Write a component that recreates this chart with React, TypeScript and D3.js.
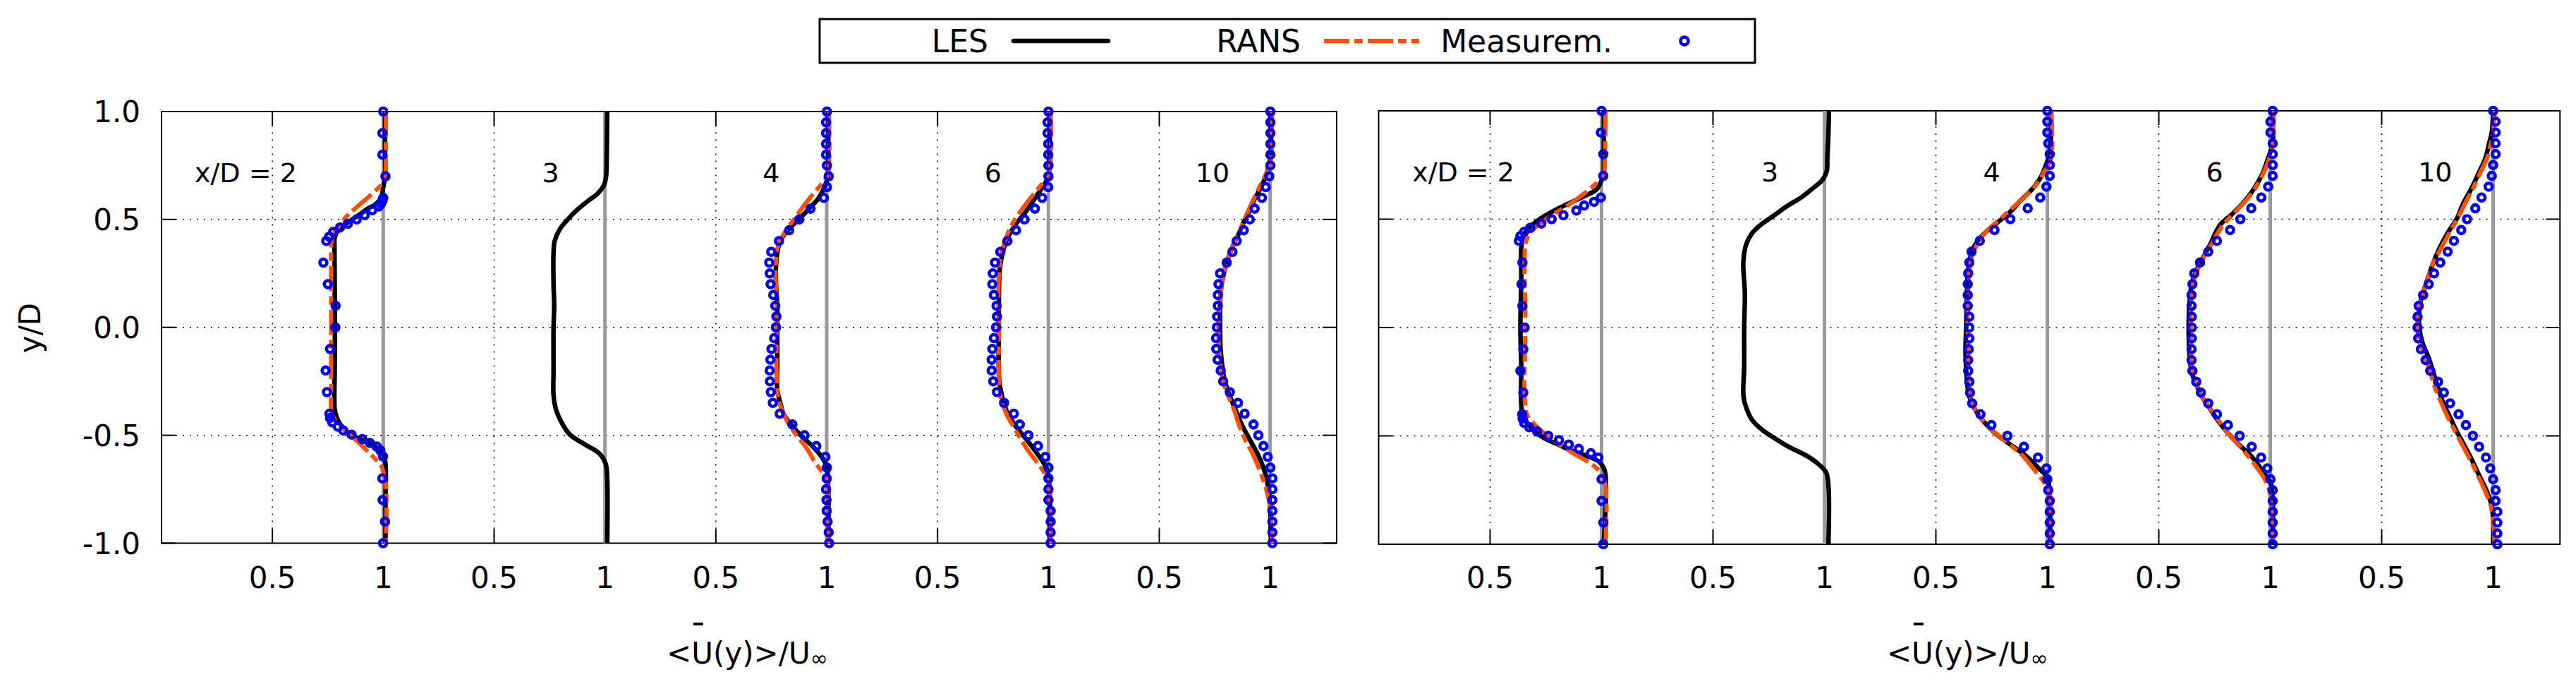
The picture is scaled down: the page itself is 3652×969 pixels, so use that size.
import * as d3 from "d3";

const W = 3652;
const H = 969;
const FONT = "DejaVu Sans";

// [y/D, U/Uinf] pairs
type Pt = [number, number];

const stationLabels = ["x/D = 2", "3", "4", "6", "10"];
const stationLabelX = [0.38, 1.755, 2.75, 3.75, 4.74];
const xTickValues = [0.5, 1, 1.5, 2, 2.5, 3, 3.5, 4, 4.5, 5];
const xTickLabels = ["0.5", "1", "0.5", "1", "0.5", "1", "0.5", "1", "0.5", "1"];
const yTickValues = [-1, -0.5, 0, 0.5, 1];
const yTickLabels = ["-1.0", "-0.5", "0.0", "0.5", "1.0"];
const refLines = [1, 2, 3, 4, 5];

// measurement stations in y/D for x/D = 4, 6, 10
const measY = [
  1.0, 0.95, 0.9, 0.85, 0.8, 0.75, 0.7, 0.65, 0.6, 0.55, 0.5, 0.45, 0.4, 0.35,
  0.3, 0.25, 0.2, 0.15, 0.1, 0.05, 0.0, -0.05, -0.1, -0.15, -0.2, -0.25, -0.3,
  -0.35, -0.4, -0.45, -0.5, -0.55, -0.6, -0.65, -0.7, -0.75, -0.8, -0.85, -0.9,
  -0.95, -1.0,
];

// ---------- left panel ----------
const lesA2: Pt[] = [
  [1.0, 1.008], [0.85, 1.008], [0.7, 1.008], [0.65, 1.0], [0.6, 0.99],
  [0.57, 0.965], [0.55, 0.93], [0.52, 0.89], [0.5, 0.86], [0.47, 0.82],
  [0.44, 0.79], [0.41, 0.78], [0.38, 0.78], [0.2, 0.781], [0.0, 0.782],
  [-0.2, 0.781], [-0.38, 0.781], [-0.41, 0.788], [-0.44, 0.8], [-0.495, 0.85],
  [-0.52, 0.9], [-0.55, 0.96], [-0.59, 1.0], [-0.63, 1.01], [-0.8, 1.01],
  [-1.0, 1.01],
];
const ransA2: Pt[] = [
  [1.0, 1.012], [0.8, 1.012], [0.72, 1.01], [0.68, 1.0], [0.66, 0.99],
  [0.61, 0.94], [0.566, 0.89], [0.525, 0.845], [0.483, 0.81], [0.44, 0.78],
  [0.4, 0.767], [0.3, 0.765], [0.0, 0.765], [-0.3, 0.765], [-0.4, 0.768],
  [-0.45, 0.8], [-0.535, 0.89], [-0.59, 0.945], [-0.64, 0.99], [-0.67, 1.0],
  [-0.73, 1.012], [-1.0, 1.012],
];
const measA2: Pt[] = [
  [1.0, 1.0], [0.9, 0.996], [0.8, 0.996], [0.7, 1.01], [0.6, 1.0],
  [0.587, 0.996], [0.573, 0.99], [0.56, 0.98], [0.543, 0.95], [0.52, 0.916],
  [0.5, 0.88], [0.48, 0.84], [0.463, 0.805], [0.442, 0.774], [0.42, 0.756],
  [0.4, 0.743], [0.3, 0.73], [0.2, 0.75], [0.1, 0.785], [0.0, 0.784],
  [-0.1, 0.76], [-0.2, 0.74], [-0.3, 0.746], [-0.4, 0.757], [-0.42, 0.76],
  [-0.44, 0.77], [-0.46, 0.795], [-0.478, 0.82], [-0.497, 0.857],
  [-0.518, 0.906], [-0.536, 0.94], [-0.552, 0.97], [-0.57, 0.987],
  [-0.598, 0.999], [-0.7, 0.996], [-0.8, 0.997], [-0.9, 1.008], [-1.0, 0.999],
];
const lesA3: Pt[] = [
  [1.0, 1.01], [0.8, 1.008], [0.7, 1.005], [0.66, 0.996], [0.62, 0.967],
  [0.587, 0.925], [0.545, 0.875], [0.5, 0.832], [0.456, 0.797], [0.4, 0.773],
  [0.346, 0.768], [0.2, 0.768], [0.1, 0.771], [0.0, 0.768], [-0.2, 0.768],
  [-0.315, 0.768], [-0.384, 0.78], [-0.44, 0.804], [-0.495, 0.84],
  [-0.543, 0.91], [-0.584, 0.974], [-0.632, 1.003], [-0.7, 1.01], [-1.0, 1.01],
];
const lesA4: Pt[] = [
  [1.0, 1.007], [0.8, 1.007], [0.7, 1.005], [0.65, 0.99], [0.594, 0.96],
  [0.55, 0.92], [0.5, 0.874], [0.456, 0.83], [0.4, 0.79], [0.318, 0.774],
  [0.235, 0.77], [0.1, 0.777], [0.0, 0.777], [-0.178, 0.777], [-0.29, 0.777],
  [-0.343, 0.789], [-0.4, 0.805], [-0.45, 0.838], [-0.505, 0.888],
  [-0.56, 0.945], [-0.61, 0.984], [-0.646, 1.0], [-0.75, 1.007], [-1.0, 1.007],
];
const ransA4: Pt[] = [
  [1.0, 1.01], [0.75, 1.01], [0.7, 1.001], [0.66, 0.973], [0.607, 0.93],
  [0.552, 0.888], [0.5, 0.852], [0.44, 0.81], [0.373, 0.78], [0.29, 0.77],
  [0.1, 0.774], [0.0, 0.774], [-0.2, 0.774], [-0.343, 0.785], [-0.426, 0.817],
  [-0.495, 0.86], [-0.56, 0.91], [-0.63, 0.95], [-0.66, 0.973], [-0.7, 1.0],
  [-0.8, 1.005], [-1.0, 1.005],
];
const measUA4 = [
  1.001, 0.997, 0.997, 0.997, 0.997, 1.001, 1.009, 1.001, 0.987, 0.927, 0.876,
  0.831, 0.785, 0.75, 0.741, 0.743, 0.747, 0.759, 0.768, 0.773, 0.771, 0.763,
  0.751, 0.746, 0.743, 0.744, 0.748, 0.757, 0.788, 0.845, 0.9, 0.953, 0.994,
  1.001, 1.0, 0.997, 0.999, 1.0, 1.004, 1.009, 1.011,
];
const lesA6: Pt[] = [
  [1.0, 1.007], [0.8, 1.005], [0.7, 1.0], [0.66, 0.98], [0.62, 0.953],
  [0.58, 0.928], [0.525, 0.89], [0.47, 0.847], [0.4, 0.81], [0.33, 0.79],
  [0.263, 0.78], [0.0, 0.776], [-0.245, 0.778], [-0.315, 0.79], [-0.384, 0.81],
  [-0.45, 0.847], [-0.522, 0.903], [-0.59, 0.953], [-0.646, 0.989],
  [-0.687, 1.0], [-0.8, 1.007], [-1.0, 1.007],
];
const ransA6: Pt[] = [
  [1.0, 1.01], [0.75, 1.008], [0.7, 0.996], [0.66, 0.967], [0.607, 0.925],
  [0.54, 0.875], [0.47, 0.832], [0.4, 0.804], [0.33, 0.785], [0.235, 0.776],
  [0.0, 0.776], [-0.315, 0.783], [-0.4, 0.81], [-0.48, 0.854], [-0.563, 0.903],
  [-0.632, 0.953], [-0.687, 0.989], [-0.75, 1.005], [-1.0, 1.01],
];
const measUA6 = [
  1.0, 0.996, 0.996, 0.999, 0.999, 1.0, 1.0, 0.999, 0.972, 0.939, 0.892, 0.854,
  0.815, 0.783, 0.759, 0.749, 0.747, 0.754, 0.766, 0.768, 0.764, 0.754, 0.747,
  0.744, 0.744, 0.751, 0.768, 0.8, 0.844, 0.871, 0.91, 0.953, 0.986, 1.0, 1.0,
  1.0, 1.0, 1.01, 1.01, 1.01, 1.01,
];
const lesA10: Pt[] = [
  [1.0, 1.0], [0.8, 1.003], [0.75, 0.994], [0.7, 0.98], [0.65, 0.959],
  [0.594, 0.93], [0.54, 0.906], [0.485, 0.88], [0.43, 0.857], [0.373, 0.83],
  [0.304, 0.805], [0.235, 0.788], [0.167, 0.777], [0.1, 0.774], [0.0, 0.774],
  [-0.109, 0.777], [-0.178, 0.784], [-0.247, 0.795], [-0.315, 0.817],
  [-0.384, 0.845], [-0.453, 0.873], [-0.522, 0.909], [-0.59, 0.945],
  [-0.66, 0.973], [-0.715, 0.987], [-0.8, 0.998], [-1.0, 1.004],
];
const ransA10: Pt[] = [
  [1.0, 1.008], [0.8, 1.005], [0.75, 0.998], [0.7, 0.976], [0.65, 0.952],
  [0.58, 0.919], [0.51, 0.888], [0.44, 0.86], [0.373, 0.83], [0.304, 0.805],
  [0.235, 0.788], [0.1, 0.771], [0.0, 0.767], [-0.109, 0.77], [-0.247, 0.788],
  [-0.315, 0.81], [-0.384, 0.838], [-0.453, 0.86], [-0.522, 0.888],
  [-0.59, 0.923], [-0.66, 0.952], [-0.729, 0.976], [-0.8, 0.994],
  [-0.87, 1.003], [-1.0, 1.008],
];
const measUA10 = [
  1.001, 1.001, 1.001, 1.001, 1.001, 1.001, 0.996, 0.98, 0.963, 0.93, 0.908,
  0.881, 0.849, 0.83, 0.804, 0.774, 0.767, 0.764, 0.764, 0.761, 0.76, 0.756,
  0.757, 0.763, 0.777, 0.788, 0.818, 0.855, 0.885, 0.925, 0.947, 0.97, 0.989,
  1.001, 1.01, 1.01, 1.01, 1.01, 1.01, 1.01, 1.01,
];

// ---------- right panel ----------
const lesB2: Pt[] = [
  [1.0, 1.01], [0.8, 1.01], [0.7, 1.008], [0.68, 1.0], [0.64, 0.98],
  [0.614, 0.94], [0.586, 0.88], [0.56, 0.827], [0.53, 0.77], [0.504, 0.728],
  [0.477, 0.693], [0.45, 0.665], [0.42, 0.648], [0.367, 0.64], [0.23, 0.64],
  [0.0, 0.636], [-0.18, 0.64], [-0.386, 0.643], [-0.44, 0.665], [-0.47, 0.693],
  [-0.51, 0.742], [-0.537, 0.8], [-0.564, 0.856], [-0.59, 0.926],
  [-0.62, 0.99], [-0.66, 1.014], [-0.73, 1.02], [-1.0, 1.01],
];
const ransB2: Pt[] = [
  [1.0, 1.018], [0.78, 1.015], [0.71, 1.01], [0.68, 0.99], [0.64, 0.948],
  [0.6, 0.898], [0.56, 0.842], [0.518, 0.778], [0.477, 0.721], [0.436, 0.679],
  [0.394, 0.66], [0.34, 0.655], [0.0, 0.658], [-0.318, 0.655], [-0.4, 0.665],
  [-0.44, 0.693], [-0.5, 0.757], [-0.55, 0.827], [-0.59, 0.89], [-0.63, 0.955],
  [-0.67, 0.997], [-0.73, 1.018], [-1.0, 1.018],
];
const measB2: Pt[] = [
  [1.0, 1.0], [0.9, 0.997], [0.8, 1.008], [0.7, 1.008], [0.6, 0.997],
  [0.58, 0.966], [0.563, 0.922], [0.54, 0.887], [0.518, 0.829], [0.5, 0.776],
  [0.48, 0.73], [0.46, 0.68], [0.442, 0.653], [0.422, 0.636], [0.4, 0.629],
  [0.3, 0.645], [0.2, 0.641], [0.1, 0.645], [0.0, 0.655], [-0.1, 0.649],
  [-0.2, 0.636], [-0.3, 0.649], [-0.4, 0.644], [-0.42, 0.646], [-0.44, 0.653],
  [-0.46, 0.676], [-0.48, 0.711], [-0.5, 0.761], [-0.52, 0.809], [-0.54, 0.853],
  [-0.56, 0.898], [-0.58, 0.952], [-0.6, 0.986], [-0.7, 1.0], [-0.8, 1.0],
  [-0.9, 1.008], [-1.0, 1.008],
];
const lesB3: Pt[] = [
  [1.0, 1.02], [0.9, 1.018], [0.78, 1.013], [0.72, 1.01], [0.68, 0.99],
  [0.64, 0.945], [0.6, 0.895], [0.56, 0.832], [0.518, 0.775], [0.477, 0.718],
  [0.436, 0.676], [0.38, 0.648], [0.3, 0.636], [0.16, 0.643], [0.0, 0.64],
  [-0.18, 0.64], [-0.318, 0.637], [-0.386, 0.655], [-0.427, 0.676],
  [-0.47, 0.718], [-0.51, 0.775], [-0.55, 0.839], [-0.59, 0.917],
  [-0.63, 0.973], [-0.67, 1.008], [-0.73, 1.018], [-1.0, 1.018],
];
const lesB4: Pt[] = [
  [1.0, 1.017], [0.9, 1.017], [0.8, 1.01], [0.75, 0.994], [0.696, 0.972],
  [0.64, 0.933], [0.586, 0.88], [0.53, 0.83], [0.477, 0.767], [0.42, 0.704],
  [0.367, 0.668], [0.3, 0.65], [0.23, 0.642], [0.0, 0.636], [-0.11, 0.633],
  [-0.25, 0.64], [-0.318, 0.65], [-0.373, 0.673], [-0.43, 0.711],
  [-0.482, 0.76], [-0.537, 0.83], [-0.59, 0.902], [-0.646, 0.958],
  [-0.688, 0.998], [-0.73, 1.008], [-1.0, 1.012],
];
const ransB4: Pt[] = [
  [1.0, 1.017], [0.78, 1.017], [0.72, 0.987], [0.67, 0.958], [0.614, 0.909],
  [0.56, 0.852], [0.504, 0.792], [0.45, 0.732], [0.394, 0.69], [0.326, 0.661],
  [0.23, 0.647], [0.0, 0.643], [-0.345, 0.661], [-0.4, 0.69], [-0.455, 0.732],
  [-0.523, 0.81], [-0.59, 0.888], [-0.66, 0.944], [-0.715, 0.986],
  [-0.756, 1.008], [-1.0, 1.015],
];
const measUB4 = [
  1.0, 1.0, 1.0, 1.004, 1.011, 1.011, 1.011, 0.996, 0.968, 0.912, 0.834, 0.763,
  0.697, 0.66, 0.65, 0.645, 0.643, 0.643, 0.643, 0.65, 0.65, 0.65, 0.647,
  0.645, 0.645, 0.65, 0.653, 0.663, 0.7, 0.749, 0.821, 0.895, 0.958, 0.996,
  1.0, 1.004, 1.011, 1.011, 1.011, 1.011, 1.011,
];
const lesB6: Pt[] = [
  [1.0, 1.011], [0.85, 1.011], [0.78, 0.99], [0.71, 0.965], [0.64, 0.927],
  [0.573, 0.877], [0.518, 0.823], [0.477, 0.778], [0.436, 0.754],
  [0.394, 0.736], [0.34, 0.708], [0.27, 0.672], [0.2, 0.648], [0.1, 0.637],
  [0.0, 0.634], [-0.11, 0.637], [-0.208, 0.648], [-0.263, 0.668],
  [-0.318, 0.693], [-0.373, 0.729], [-0.427, 0.764], [-0.482, 0.806],
  [-0.537, 0.856], [-0.59, 0.912], [-0.646, 0.955], [-0.688, 0.983],
  [-0.715, 1.001], [-0.8, 1.011], [-1.0, 1.011],
];
const ransB6: Pt[] = [
  [1.0, 1.016], [0.85, 1.01], [0.78, 0.996], [0.71, 0.968], [0.64, 0.931],
  [0.573, 0.88], [0.518, 0.828], [0.477, 0.792], [0.436, 0.764],
  [0.394, 0.743], [0.34, 0.71], [0.27, 0.676], [0.2, 0.653], [0.1, 0.644],
  [0.0, 0.644], [-0.208, 0.651], [-0.318, 0.693], [-0.4, 0.75],
  [-0.482, 0.806], [-0.564, 0.877], [-0.646, 0.94], [-0.715, 0.983],
  [-0.78, 1.001], [-1.0, 1.012],
];
const measUB6 = [
  1.011, 1.001, 1.001, 1.011, 1.011, 1.011, 1.011, 0.991, 0.96, 0.915, 0.866,
  0.82, 0.761, 0.722, 0.685, 0.659, 0.651, 0.647, 0.647, 0.648, 0.648, 0.648,
  0.647, 0.647, 0.651, 0.668, 0.689, 0.722, 0.761, 0.81, 0.863, 0.917, 0.959,
  0.987, 1.001, 1.011, 1.011, 1.011, 1.011, 1.011, 1.011,
];
const lesB10: Pt[] = [
  [1.0, 1.0], [0.9, 0.994], [0.85, 0.982], [0.78, 0.965], [0.71, 0.934],
  [0.64, 0.902], [0.573, 0.866], [0.504, 0.838], [0.436, 0.796],
  [0.367, 0.76], [0.3, 0.732], [0.23, 0.708], [0.16, 0.686], [0.1, 0.671],
  [0.0, 0.669], [-0.07, 0.683], [-0.14, 0.711], [-0.208, 0.732],
  [-0.277, 0.753], [-0.345, 0.775], [-0.414, 0.807], [-0.482, 0.838],
  [-0.55, 0.874], [-0.62, 0.909], [-0.688, 0.94], [-0.756, 0.972],
  [-0.825, 0.994], [-0.89, 1.0], [-1.0, 1.0],
];
const ransB10: Pt[] = [
  [1.0, 1.007], [0.9, 1.0], [0.85, 0.99], [0.78, 0.972], [0.71, 0.94],
  [0.64, 0.909], [0.573, 0.874], [0.504, 0.841], [0.436, 0.803],
  [0.367, 0.767], [0.3, 0.732], [0.23, 0.708], [0.16, 0.686], [0.1, 0.669],
  [0.0, 0.661], [-0.07, 0.671], [-0.14, 0.697], [-0.208, 0.718],
  [-0.277, 0.739], [-0.345, 0.766], [-0.414, 0.797], [-0.482, 0.831],
  [-0.55, 0.866], [-0.62, 0.902], [-0.688, 0.934], [-0.756, 0.965],
  [-0.825, 0.99], [-0.89, 1.0], [-1.0, 1.007],
];
const measUB10 = [
  1.0, 1.011, 1.011, 1.011, 1.011, 1.0, 0.994, 0.98, 0.948, 0.92, 0.883, 0.857,
  0.824, 0.796, 0.763, 0.735, 0.711, 0.686, 0.666, 0.661, 0.661, 0.664, 0.676,
  0.697, 0.718, 0.753, 0.779, 0.807, 0.845, 0.878, 0.909, 0.937, 0.968, 0.987,
  1.0, 1.011, 1.011, 1.019, 1.019, 1.019, 1.019,
];

const onMeasY = (us: number[]): Pt[] => us.map((u, i) => [measY[i], u]);

type Profile = { les: Pt[]; rans?: Pt[]; meas?: Pt[] };

const profilesA: Profile[] = [
  { les: lesA2, rans: ransA2, meas: measA2 },
  { les: lesA3 },
  { les: lesA4, rans: ransA4, meas: onMeasY(measUA4) },
  { les: lesA6, rans: ransA6, meas: onMeasY(measUA6) },
  { les: lesA10, rans: ransA10, meas: onMeasY(measUA10) },
];
const profilesB: Profile[] = [
  { les: lesB2, rans: ransB2, meas: measB2 },
  { les: lesB3 },
  { les: lesB4, rans: ransB4, meas: onMeasY(measUB4) },
  { les: lesB6, rans: ransB6, meas: onMeasY(measUB6) },
  { les: lesB10, rans: ransB10, meas: onMeasY(measUB10) },
];

const LES_COLOR = "#000000";
const RANS_COLOR = "#ff4f00";
const MEAS_COLOR = "#0000ff";
const RANS_DASH = "36,7,12,7";
const MARK_R = 5;
const MARK_W = 4.6;

type Box = { left: number; right: number; top: number; bottom: number };

function Panel({
  box,
  profiles,
  showYLabels,
}: {
  box: Box;
  profiles: Profile[];
  showYLabels: boolean;
}) {
  const x = d3.scaleLinear().domain([0, 5.3]).range([box.left, box.right]);
  const y = d3.scaleLinear().domain([-1, 1]).range([box.bottom, box.top]);
  const tickLen = 20;

  const lineFor = (offset: number) =>
    d3
      .line<Pt>()
      .x((d) => x(d[1] + offset))
      .y((d) => y(d[0]))
      .curve(d3.curveCatmullRom.alpha(0.5));

  const cx = (box.left + box.right) / 2;

  return (
    <g>
      {/* grid */}
      {xTickValues.map((v) => (
        <line
          key={`gx-${v}`}
          x1={x(v)}
          x2={x(v)}
          y1={y(-1)}
          y2={y(1)}
          stroke="#000"
          strokeWidth={1.5}
          strokeDasharray="2,8"
        />
      ))}
      {[-0.5, 0, 0.5].map((v) => (
        <line
          key={`gy-${v}`}
          x1={x(0)}
          x2={x(5.3)}
          y1={y(v)}
          y2={y(v)}
          stroke="#000"
          strokeWidth={1.5}
          strokeDasharray="2,8"
        />
      ))}
      {/* ticks, mirrored on all sides */}
      {xTickValues.map((v) => (
        <g key={`tx-${v}`} stroke="#000" strokeWidth={2}>
          <line x1={x(v)} x2={x(v)} y1={y(-1)} y2={y(-1) - tickLen} />
          <line x1={x(v)} x2={x(v)} y1={y(1)} y2={y(1) + tickLen} />
        </g>
      ))}
      {yTickValues.map((v) => (
        <g key={`ty-${v}`} stroke="#000" strokeWidth={2}>
          <line x1={x(0)} x2={x(0) + tickLen} y1={y(v)} y2={y(v)} />
          <line x1={x(5.3)} x2={x(5.3) - tickLen} y1={y(v)} y2={y(v)} />
        </g>
      ))}
      <rect
        x={box.left}
        y={box.top}
        width={box.right - box.left}
        height={box.bottom - box.top}
        fill="none"
        stroke="#000"
        strokeWidth={2}
      />
      {/* tick labels */}
      {xTickValues.map((v, i) => (
        <text
          key={`lx-${v}`}
          x={x(v)}
          y={833}
          textAnchor="middle"
          fontFamily={FONT}
          fontSize={42}
        >
          {xTickLabels[i]}
        </text>
      ))}
      {showYLabels &&
        yTickValues.map((v, i) => (
          <text
            key={`ly-${v}`}
            x={199}
            y={y(v) + 15}
            textAnchor="end"
            fontFamily={FONT}
            fontSize={42}
          >
            {yTickLabels[i]}
          </text>
        ))}
      {/* U = 1 reference lines */}
      {refLines.map((v) => (
        <line
          key={`ref-${v}`}
          x1={x(v)}
          x2={x(v)}
          y1={y(-1)}
          y2={y(1)}
          stroke="#9a9a9a"
          strokeWidth={5}
        />
      ))}
      {/* station labels */}
      {stationLabels.map((s, i) => (
        <text
          key={`st-${i}`}
          x={x(stationLabelX[i])}
          y={y(0.673)}
          textAnchor="middle"
          fontFamily={FONT}
          fontSize={38}
        >
          {s}
        </text>
      ))}
      {/* profiles */}
      {profiles.map((p, i) => (
        <g key={`prof-${i}`}>
          <path
            d={lineFor(i)(p.les) ?? ""}
            fill="none"
            stroke={LES_COLOR}
            strokeWidth={6.5}
            strokeLinejoin="round"
          />
          {p.rans && (
            <path
              d={lineFor(i)(p.rans) ?? ""}
              fill="none"
              stroke={RANS_COLOR}
              strokeWidth={6}
              strokeDasharray={RANS_DASH}
            />
          )}
          {p.meas?.map((d, j) => (
            <circle
              key={`m-${i}-${j}`}
              cx={x(d[1] + i)}
              cy={y(d[0])}
              r={MARK_R}
              fill="none"
              stroke={MEAS_COLOR}
              strokeWidth={MARK_W}
            />
          ))}
        </g>
      ))}
      {/* x axis title */}
      <rect x={cx - 79} y={882} width={14} height={4} fill="#000" />
      <text x={cx - 117} y={940} fontFamily={FONT} fontSize={42}>
        {"<U(y)>/U"}
        <tspan fontSize={30} dy={3}>
          ∞
        </tspan>
      </text>
    </g>
  );
}

function Legend() {
  const top = 27;
  const h = 62;
  const mid = top + h / 2;
  const entries = [
    { label: "LES", end: 1401 },
    { label: "RANS", end: 1844 },
    { label: "Measurem.", end: 2286 },
  ];
  return (
    <g>
      <rect
        x={1162}
        y={top}
        width={1326}
        height={h}
        fill="#fff"
        stroke="#000"
        strokeWidth={3}
      />
      {entries.map((e) => (
        <text
          key={e.label}
          x={e.end}
          y={mid + 16}
          textAnchor="end"
          fontFamily={FONT}
          fontSize={44}
        >
          {e.label}
        </text>
      ))}
      <line
        x1={1437}
        x2={1571}
        y1={mid}
        y2={mid}
        stroke={LES_COLOR}
        strokeWidth={6.5}
        strokeLinecap="round"
      />
      <line
        x1={1877}
        x2={2012}
        y1={mid}
        y2={mid}
        stroke={RANS_COLOR}
        strokeWidth={6}
        strokeDasharray={RANS_DASH}
      />
      <circle
        cx={2388}
        cy={mid}
        r={MARK_R + 0.5}
        fill="none"
        stroke={MEAS_COLOR}
        strokeWidth={MARK_W}
      />
    </g>
  );
}

export default function App() {
  const leftBox: Box = { left: 229, right: 1895, top: 158, bottom: 769.5 };
  const rightBox: Box = { left: 1954.5, right: 3629.3, top: 157, bottom: 771 };
  return (
    <svg
      width={W}
      height={H}
      viewBox={`0 0 ${W} ${H}`}
      style={{ position: "absolute", left: 0, top: 0, display: "block", background: "#fff" }}
    >
      <rect width={W} height={H} fill="#fff" />
      <Panel box={leftBox} profiles={profilesA} showYLabels={true} />
      <Panel box={rightBox} profiles={profilesB} showYLabels={false} />
      <text
        transform={`translate(57, 464.5) rotate(-90)`}
        textAnchor="middle"
        fontFamily={FONT}
        fontSize={42}
      >
        y/D
      </text>
      <Legend />
    </svg>
  );
}
